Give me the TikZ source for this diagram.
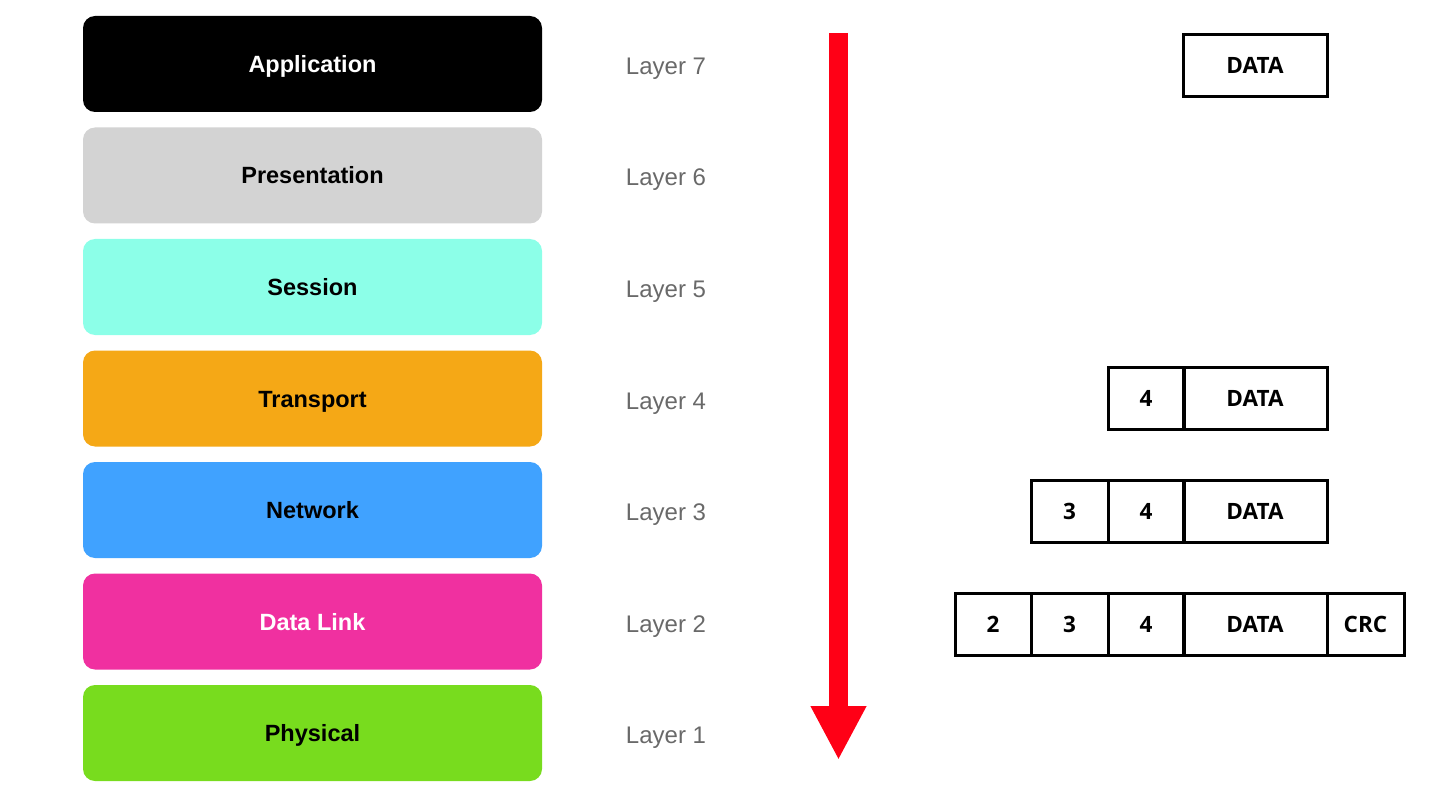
\documentclass[tikz,border=0pt]{standalone}
\usepackage{fontspec}
\setmainfont{Liberation Sans}
\newfontfamily\pdufont{Open Sans}
\usetikzlibrary{arrows.meta}
\definecolor{appc}{RGB}{0,0,0}
\definecolor{presc}{RGB}{211,211,211}
\definecolor{sessc}{RGB}{140,255,232}
\definecolor{transc}{RGB}{245,168,22}
\definecolor{netc}{RGB}{64,162,255}
\definecolor{linkc}{RGB}{240,48,160}
\definecolor{physc}{RGB}{120,220,30}
\definecolor{labelgray}{RGB}{105,105,105}
\definecolor{arrowred}{RGB}{255,0,22}
\begin{document}
\begin{tikzpicture}[x=1pt,y=-1pt,
  layerbox/.style={rounded corners=12pt, minimum width=459pt, minimum height=96pt, inner sep=0pt,
    font=\fontsize{23.5}{28}\selectfont\bfseries, text height=17pt, text depth=0pt},
  layerlabel/.style={text=labelgray, font=\fontsize{24}{28}\selectfont, text height=17pt, text depth=0pt, inner sep=0pt},
  pdu/.style={draw=black, line width=3pt, minimum height=62pt, inner sep=0pt,
    font=\pdufont\fontsize{22.5}{26}\selectfont\bfseries, text height=16pt, text depth=0pt},
]
\useasboundingbox (0,0) rectangle (1433,805);

% layer boxes
\node[layerbox, fill=appc, text=white] (app) at (312.5,64) {Application};
\node[layerbox, fill=presc] (pres) at (312.5,175.5) {Presentation};
\node[layerbox, fill=sessc] (sess) at (312.5,287) {Session};
\node[layerbox, fill=transc] (trans) at (312.5,398.5) {Transport};
\node[layerbox, fill=netc] (net) at (312.5,510) {Network};
\node[layerbox, fill=linkc, text=white] (link) at (312.5,621.5) {Data Link};
\node[layerbox, fill=physc] (phys) at (312.5,733) {Physical};

% layer labels
\node[layerlabel] (l7) at (666,66) {Layer 7};
\node[layerlabel] (l6) at (666,177.5) {Layer 6};
\node[layerlabel] (l5) at (666,289) {Layer 5};
\node[layerlabel] (l4) at (666,400.5) {Layer 4};
\node[layerlabel] (l3) at (666,512) {Layer 3};
\node[layerlabel] (l2) at (666,623.5) {Layer 2};
\node[layerlabel] (l1) at (666,735) {Layer 1};

% arrow
\coordinate (atop) at (838.5,33);
\coordinate (atip) at (838.5,760);
\draw[arrowred, line width=19pt, -{Triangle[width=52pt,length=54pt]}] (atop) -- (atip);

% PDUs
\node[pdu, minimum width=144pt] (d7) at (1255,66) {DATA};

\node[pdu, minimum width=76pt] (h4a) at (1146,398) {4};
\node[pdu, minimum width=144pt] (d4) at (1255,398) {DATA};

\node[pdu, minimum width=77pt] (h3b) at (1069.5,511) {3};
\node[pdu, minimum width=76pt] (h4b) at (1146,511) {4};
\node[pdu, minimum width=144pt] (d3) at (1255,511) {DATA};

\node[pdu, minimum width=76pt] (h2c) at (993,624) {2};
\node[pdu, minimum width=77pt] (h3c) at (1069.5,624) {3};
\node[pdu, minimum width=76pt] (h4c) at (1146,624) {4};
\node[pdu, minimum width=144pt] (d2) at (1255,624) {DATA};
\node[pdu, minimum width=77pt] (crc) at (1365.5,624) {CRC};
\end{tikzpicture}
\end{document}
